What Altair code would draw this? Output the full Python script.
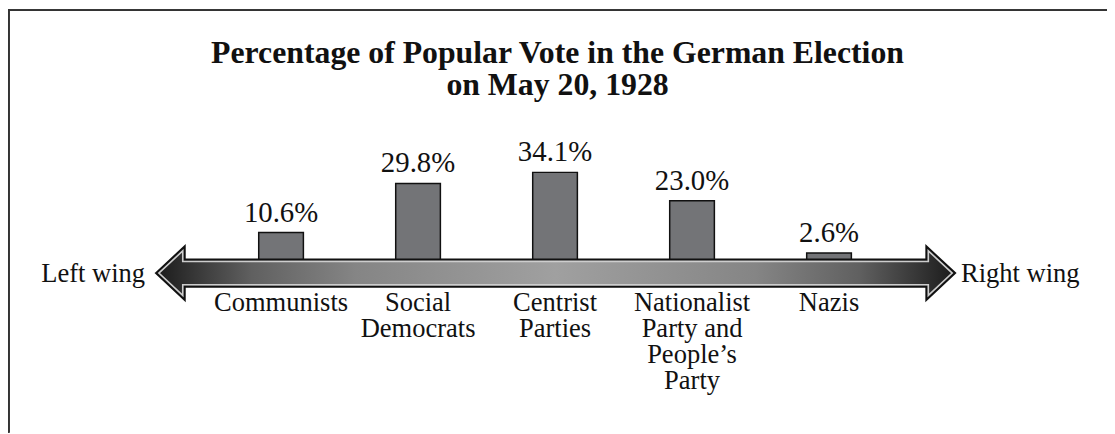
import altair as alt
import pandas as pd

# ---- data ----
parties = ["Communists", "Social\nDemocrats", "Centrist\nParties",
           "Nationalist\nParty and\nPeople\u2019s\nParty", "Nazis"]
votes = [10.6, 29.8, 34.1, 23.0, 2.6]
title_lines = ["Percentage of Popular Vote in the German Election", "on May 20, 1928"]
wing_labels = ["Left wing", "Right wing"]

# ---- layout constants (pixels) ----
W, H = 1107, 326          # view size
PAD_TOP = 100             # room for title
X0 = 551                  # view x of the middle category
STEP = 139.25             # px between categories
PXPCT = 2.58              # px per percentage point
BASE = 152                # view y of 0 %
SERIF = "Liberation Serif"
INK = "#111111"
LABEL_SIZE = 26.7

x_dom = [2 - X0 / STEP, 2 + (W - X0) / STEP]
y_dom = [-(H - BASE) / PXPCT, BASE / PXPCT]
xs = alt.Scale(domain=x_dom, nice=False, zero=False)
ys = alt.Scale(domain=y_dom, nice=False, zero=False)


def page_x(px):
    return 2 + (px - 8 - X0) / STEP


def page_y(py):
    return (PAD_TOP + 8 + BASE - py) / PXPCT


df = pd.DataFrame({"party": parties, "vote": votes, "idx": list(range(len(parties)))})

# ---- double-headed arrow drawn as a custom symbol (decoration) ----
TIP_L, TIP_R = 157, 962
HEAD_LEN = 29
CY = 273.5
SHAFT_HALF = 13.75
HEAD_HALF = 27
half = (TIP_R - TIP_L) / 2
cx = (TIP_R + TIP_L) / 2
bx = half - HEAD_LEN
outline = [(-half, 0), (-bx, -HEAD_HALF), (-bx, -SHAFT_HALF), (bx, -SHAFT_HALF), (bx, -HEAD_HALF),
           (half, 0), (bx, HEAD_HALF), (bx, SHAFT_HALF), (-bx, SHAFT_HALF), (-bx, HEAD_HALF)]


def inset(poly, d):
    n = len(poly)
    area = sum(poly[i][0] * poly[(i + 1) % n][1] - poly[(i + 1) % n][0] * poly[i][1] for i in range(n))
    sgn = 1 if area > 0 else -1
    lines = []
    for i in range(n):
        (x1, y1), (x2, y2) = poly[i], poly[(i + 1) % n]
        dx, dy = x2 - x1, y2 - y1
        L = (dx * dx + dy * dy) ** 0.5
        nx, ny = -dy / L * sgn, dx / L * sgn
        lines.append(((x1 + nx * d, y1 + ny * d), (dx, dy)))
    out = []
    for i in range(n):
        (p, r), (q, s) = lines[i - 1], lines[i]
        cross = r[0] * s[1] - r[1] * s[0]
        t = ((q[0] - p[0]) * s[1] - (q[1] - p[1]) * s[0]) / cross
        out.append((p[0] + t * r[0], p[1] + t * r[1]))
    return out


def to_path(poly):
    return "M " + " L ".join(f"{x / half:.5f} {y / half:.5f}" for x, y in poly) + " Z"


arrow_path = to_path(outline)
bevel_path = to_path(inset(outline, 2.0))
arrow_df = pd.DataFrame({"x": [page_x(cx)], "y": [page_y(CY)]})

grad = alt.Gradient(
    gradient="linear", x1=0, x2=1, y1=0, y2=0,
    stops=[
        alt.GradientStop(offset=0.0, color="#1a1a1a"),
        alt.GradientStop(offset=0.05, color="#383838"),
        alt.GradientStop(offset=0.12, color="#606060"),
        alt.GradientStop(offset=0.25, color="#858585"),
        alt.GradientStop(offset=0.5, color="#a0a0a0"),
        alt.GradientStop(offset=0.75, color="#858585"),
        alt.GradientStop(offset=0.88, color="#606060"),
        alt.GradientStop(offset=0.95, color="#383838"),
        alt.GradientStop(offset=1.0, color="#1a1a1a"),
    ],
)

X = alt.X("idx:Q", scale=xs, axis=None)
arrow_enc = dict(x=alt.X("x:Q", scale=xs, axis=None), y=alt.Y("y:Q", scale=ys, axis=None))
size = (2 * half) ** 2

arrow_body = alt.Chart(arrow_df).mark_point(
    shape=arrow_path, size=size, filled=True, fill=grad, fillOpacity=1,
    stroke=INK, strokeWidth=2, opacity=1
).encode(**arrow_enc)
arrow_bevel = alt.Chart(arrow_df).mark_point(
    shape=bevel_path, size=size, filled=False, stroke="#cdcdcd", strokeWidth=1.6, opacity=1
).encode(**arrow_enc)

bars = alt.Chart(df).mark_bar(size=45, fill="#737477", stroke=INK, strokeWidth=1.5).encode(
    x=X, y=alt.Y("vote:Q", scale=ys, axis=None), y2=alt.datum(0)
)

pct = alt.Chart(df).transform_calculate(
    lab="format(datum.vote, '.1f') + '%'"
).mark_text(font=SERIF, fontSize=29, baseline="alphabetic", dy=-11, color=INK).encode(
    x=X, y=alt.Y("vote:Q", scale=ys, axis=None), text="lab:N"
)

cats = alt.Chart(df).mark_text(font=SERIF, fontSize=LABEL_SIZE, baseline="alphabetic", align="center",
                               lineBreak="\n", lineHeight=26, color=INK).encode(
    x=X, y=alt.value(312 - 8 - PAD_TOP), text="party:N"
)

wing_df = pd.DataFrame({"lab": wing_labels, "side": [0, 1]})
left = alt.Chart(wing_df).transform_filter("datum.side == 0").mark_text(
    font=SERIF, fontSize=LABEL_SIZE, baseline="alphabetic", align="right", color=INK
).encode(x=alt.value(146 - 8), y=alt.value(282 - 8 - PAD_TOP), text="lab:N")
right = alt.Chart(wing_df).transform_filter("datum.side == 1").mark_text(
    font=SERIF, fontSize=LABEL_SIZE, baseline="alphabetic", align="left", color=INK
).encode(x=alt.value(968 - 8), y=alt.value(282 - 8 - PAD_TOP), text="lab:N")

frame_top = alt.Chart(df).mark_rule(color="#333333", strokeWidth=1.5).encode(
    x=alt.value(0), x2=alt.value(W), y=alt.value(-PAD_TOP + 0.75)
)
frame_left = alt.Chart(df).mark_rule(color="#333333", strokeWidth=1.5).encode(
    x=alt.value(0.75), y=alt.value(-PAD_TOP), y2=alt.value(H)
)

chart = alt.layer(frame_top, frame_left, bars, arrow_body, arrow_bevel, pct, cats, left, right).properties(
    width=W, height=H,
    autosize=alt.AutoSizeParams(type="none"),
    padding={"left": 0, "right": 0, "top": PAD_TOP, "bottom": 0},
    title=alt.TitleParams(text=title_lines, font=SERIF, fontSize=32, fontWeight="bold",
                          lineHeight=32, anchor="middle", baseline="bottom", frame="group",
                          offset=0, dy=126, color=INK),
).configure(background="white").configure_view(stroke="transparent", strokeWidth=0)

chart.save("out.html", embed_options={"renderer": "svg", "actions": False})
